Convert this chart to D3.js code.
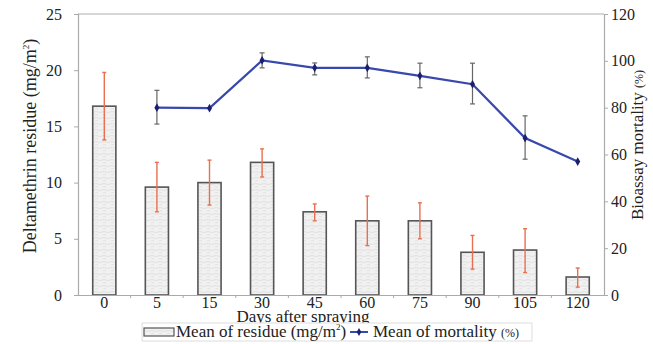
<!DOCTYPE html>
<html>
<head>
<meta charset="utf-8">
<script src="https://cdn.jsdelivr.net/npm/d3@7"></script>
<style>
  body { margin: 0; background: #fff; }
  svg text { font-family: "Liberation Serif", "Times New Roman", "DejaVu Serif", serif; fill: #222; }
</style>
</head>
<body>
<div id="chart"></div>
<script>
// categories (days after spraying)
const DAYS = ["0", "5", "15", "30", "45", "60", "75", "90", "105", "120"];

// residue means and error bar ends (mg/m2)
const RESIDUE = [16.8, 9.6, 10.0, 11.8, 7.4, 6.6, 6.6, 3.8, 4.0, 1.6];
const RESIDUE_LO = [13.8, 7.4, 8.0, 10.5, 6.6, 4.4, 5.0, 2.3, 2.0, 0.7];
const RESIDUE_HI = [19.8, 11.8, 12.0, 13.0, 8.1, 8.8, 8.2, 5.3, 5.9, 2.4];

// mortality means and error bar ends (%), no value at day 0
const MORT_DAYS = ["5", "15", "30", "45", "60", "75", "90", "105", "120"];
const MORTALITY = [80, 79.8, 100.2, 97, 97, 93.6, 90, 67, 57];
const MORT_LO = [73, null, 97, 94, 92.7, 88.5, 81.6, 58, null];
const MORT_HI = [87.4, null, 103.4, 99.1, 101.7, 99, 99, 76.5, null];

const LEFT_TICKS = [0, 5, 10, 15, 20, 25];
const RIGHT_TICKS = [0, 20, 40, 60, 80, 100, 120];

const FONT = "'Liberation Serif', 'Times New Roman', 'DejaVu Serif', serif";
const W = 653, H = 344;
const M = { top: 14, right: 49, bottom: 49, left: 78 };
const iw = W - M.left - M.right;
const ih = H - M.top - M.bottom;

const svg = d3.select("#chart").append("svg")
    .attr("width", W).attr("height", H)
    .attr("font-family", FONT);

// texture for bars
const defs = svg.append("defs");
const pat = defs.append("pattern")
    .attr("id", "tex").attr("patternUnits", "userSpaceOnUse")
    .attr("width", 8).attr("height", 6);
pat.append("rect").attr("width", 8).attr("height", 6).attr("fill", "#f1f1f1");
pat.append("path").attr("d", "M0,2 q2,-1 4,0 t4,0 M1,5 q2,-1 3,0")
    .attr("stroke", "#dcdcdc").attr("fill", "none").attr("stroke-width", 0.8);

const g = svg.append("g").attr("transform", `translate(${M.left},${M.top})`);

const x = d3.scaleBand().domain(DAYS).range([0, iw]).paddingInner(0.56).paddingOuter(0.28);
const yL = d3.scaleLinear().domain([0, 25]).range([ih, 0]);
const yR = d3.scaleLinear().domain([0, 120]).range([ih, 0]);
const cx = d => x(d) + x.bandwidth() / 2;

// top border
g.append("line").attr("x1", 0).attr("x2", iw).attr("y1", 0).attr("y2", 0)
    .attr("stroke", "#c8c8c8").attr("stroke-width", 1.5);

// bars
g.selectAll(".bar").data(DAYS).enter().append("rect")
    .attr("x", d => x(d))
    .attr("width", x.bandwidth())
    .attr("y", (d, i) => yL(RESIDUE[i]))
    .attr("height", (d, i) => ih - yL(RESIDUE[i]))
    .attr("fill", "url(#tex)")
    .attr("stroke", "#555").attr("stroke-width", 1.6);

// residue error bars
const errR = g.selectAll(".err-r").data(DAYS).enter().append("g").attr("stroke", "#e8704f").attr("stroke-width", 1.4);
errR.append("line").attr("x1", d => cx(d)).attr("x2", d => cx(d))
    .attr("y1", (d, i) => yL(RESIDUE_LO[i])).attr("y2", (d, i) => yL(RESIDUE_HI[i]));
errR.append("line").attr("x1", d => cx(d) - 2).attr("x2", d => cx(d) + 2)
    .attr("y1", (d, i) => yL(RESIDUE_LO[i])).attr("y2", (d, i) => yL(RESIDUE_LO[i]));
errR.append("line").attr("x1", d => cx(d) - 2).attr("x2", d => cx(d) + 2)
    .attr("y1", (d, i) => yL(RESIDUE_HI[i])).attr("y2", (d, i) => yL(RESIDUE_HI[i]));

// mortality error bars
const mIdx = MORT_DAYS.map((d, i) => i).filter(i => MORT_LO[i] !== null);
const errM = g.selectAll(".err-m").data(mIdx).enter().append("g").attr("stroke", "#666").attr("stroke-width", 1.2);
errM.append("line").attr("x1", i => cx(MORT_DAYS[i])).attr("x2", i => cx(MORT_DAYS[i]))
    .attr("y1", i => yR(MORT_LO[i])).attr("y2", i => yR(MORT_HI[i]));
errM.append("line").attr("x1", i => cx(MORT_DAYS[i]) - 2.5).attr("x2", i => cx(MORT_DAYS[i]) + 2.5)
    .attr("y1", i => yR(MORT_LO[i])).attr("y2", i => yR(MORT_LO[i]));
errM.append("line").attr("x1", i => cx(MORT_DAYS[i]) - 2.5).attr("x2", i => cx(MORT_DAYS[i]) + 2.5)
    .attr("y1", i => yR(MORT_HI[i])).attr("y2", i => yR(MORT_HI[i]));

// mortality line
const line = d3.line().x((d, i) => cx(MORT_DAYS[i])).y(d => yR(d));
g.append("path").datum(MORTALITY).attr("d", line)
    .attr("fill", "none").attr("stroke", "#3848ac").attr("stroke-width", 2.2);
g.selectAll(".pt").data(MORTALITY).enter().append("path")
    .attr("d", d3.symbol(d3.symbolDiamond, 22))
    .attr("transform", (d, i) => `translate(${cx(MORT_DAYS[i])},${yR(d)})`)
    .attr("fill", "#1a1f6e");

// axes
const styleAxis = sel => {
    sel.attr("font-family", FONT).attr("font-size", 16);
    sel.selectAll("path").attr("stroke", "#aaa").attr("stroke-width", 1.2);
    sel.selectAll("line").attr("stroke", "#aaa");
    sel.selectAll("text").attr("fill", "#222");
};
g.append("g").call(d3.axisLeft(yL).tickValues(LEFT_TICKS).tickSize(4).tickPadding(12))
    .call(styleAxis);
g.append("g").attr("transform", `translate(${iw},0)`)
    .call(d3.axisRight(yR).tickValues(RIGHT_TICKS).tickSize(4).tickPadding(3))
    .call(styleAxis);
const xa = g.append("g").attr("transform", `translate(0,${ih})`)
    .call(d3.axisBottom(x).tickSize(0).tickPadding(2)).call(styleAxis);
// small ticks between categories
xa.selectAll(".sep").data(DAYS.slice(1)).enter().append("line")
    .attr("x1", d => x(d) - x.step() * x.paddingInner() / 2)
    .attr("x2", d => x(d) - x.step() * x.paddingInner() / 2)
    .attr("y1", 0).attr("y2", 3).attr("stroke", "#aaa");

// axis titles
const tL = svg.append("text").attr("transform", "translate(36,146) rotate(-90)")
    .attr("text-anchor", "middle").attr("font-size", 18);
tL.append("tspan").text("Deltamethrin residue (mg/m");
tL.append("tspan").attr("font-size", 9).attr("dy", -7).text("2");
tL.append("tspan").attr("dy", 7).text(")");

const tR = svg.append("text").attr("transform", "translate(643,145) rotate(-90)")
    .attr("text-anchor", "middle").attr("font-size", 17);
tR.append("tspan").text("Bioassay mortality ");
tR.append("tspan").attr("font-size", 12).text("(%)");

svg.append("text").attr("x", 303).attr("y", 322).attr("text-anchor", "middle")
    .attr("font-size", 17).text("Days after spraying");

// legend
const lg = svg.append("g").attr("transform", "translate(142,323)");
lg.append("rect").attr("width", 390).attr("height", 18).attr("fill", "#fff")
    .attr("stroke", "#ddd");
lg.append("rect").attr("x", 2).attr("y", 5).attr("width", 30).attr("height", 8)
    .attr("fill", "url(#tex)").attr("stroke", "#555").attr("stroke-width", 1.2);
const lt1 = lg.append("text").attr("x", 34).attr("y", 14).attr("font-size", 17);
lt1.append("tspan").text("Mean of residue (mg/m");
lt1.append("tspan").attr("font-size", 9).attr("dy", -7).text("2");
lt1.append("tspan").attr("dy", 7).text(")");
lg.append("line").attr("x1", 208).attr("x2", 226).attr("y1", 9).attr("y2", 9)
    .attr("stroke", "#3848ac").attr("stroke-width", 2);
lg.append("path").attr("d", d3.symbol(d3.symbolDiamond, 18))
    .attr("transform", "translate(217,9)").attr("fill", "#1a1f6e");
const lt2 = lg.append("text").attr("x", 231).attr("y", 14).attr("font-size", 17);
lt2.append("tspan").text("Mean of mortality ");
lt2.append("tspan").attr("font-size", 12).text("(%)");
</script>
</body>
</html>
